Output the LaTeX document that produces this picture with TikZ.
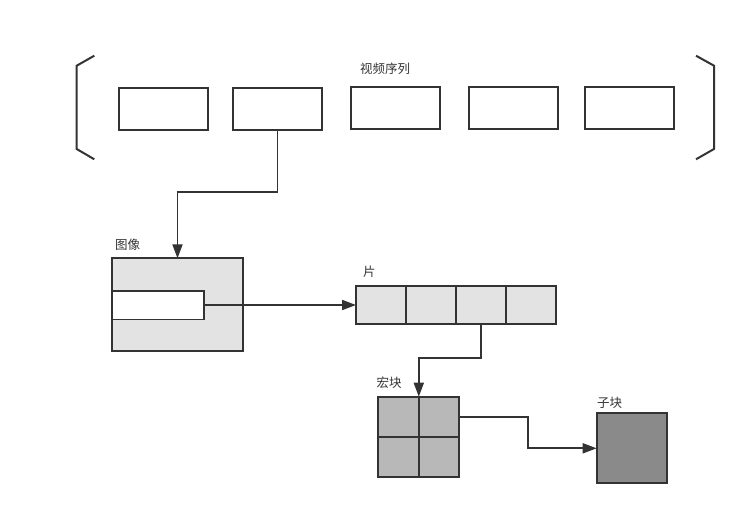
\documentclass[tikz,border=0pt]{standalone}
\usepackage{fontspec}
\newfontfamily\cjk{Noto Sans CJK SC}
\usetikzlibrary{arrows.meta}
\definecolor{ink}{HTML}{333333}
\definecolor{lightfill}{HTML}{E3E3E3}
\definecolor{midfill}{HTML}{B8B8B8}
\definecolor{darkfill}{HTML}{8A8A8A}
\tikzset{
  box/.style={draw=ink, line width=2pt, fill=white, inner sep=0pt, outer sep=0pt},
  conn/.style={draw=ink, line width=1.8pt},
  arr/.style={conn, -{Triangle[length=14pt,width=10pt]}},
  lab/.style={text=ink, font=\cjk\fontsize{12.5}{14}\selectfont, anchor=west, inner sep=0pt},
  bracket/.style={draw=ink, line width=2pt}
}
\begin{document}
\begin{tikzpicture}[x=1pt,y=-1pt]
\useasboundingbox (0,0) rectangle (746,516);
% video sequence
\node[lab] (tseq) at (360,69) {视频序列};
\draw[bracket] (94.3,55.7) -- (76.7,65.7) -- (76.7,149) -- (94.3,159.3);
\draw[bracket] (696,55.7) -- (714,65.7) -- (714,149) -- (696,159.3);
\node[box, minimum width=89pt, minimum height=42pt] (f1) at (163.5,109) {};
\node[box, minimum width=89pt, minimum height=42pt] (f2) at (277.5,109) {};
\node[box, minimum width=89pt, minimum height=42pt] (f3) at (395.5,108) {};
\node[box, minimum width=89pt, minimum height=42pt] (f4) at (513.5,108) {};
\node[box, minimum width=89pt, minimum height=42pt] (f5) at (629.5,108) {};
% picture
\node[lab] (timg) at (115,245) {图像};
\node[box, fill=lightfill, minimum width=131.6pt, minimum height=92.7pt] (img) at (177.5,304.7) {};
\node[box, line width=1.6pt, minimum width=92.3pt, minimum height=28.6pt] (frame) at (157.85,305) {};
% slice
\node[lab] (tslice) at (363,272) {片};
\node[box, fill=lightfill, minimum width=50pt, minimum height=38.3pt] (s1) at (381,304.85) {};
\node[box, fill=lightfill, minimum width=50pt, minimum height=38.3pt] (s2) at (431,304.85) {};
\node[box, fill=lightfill, minimum width=50pt, minimum height=38.3pt] (s3) at (481,304.85) {};
\node[box, fill=lightfill, minimum width=50pt, minimum height=38.3pt] (s4) at (531,304.85) {};
% macroblock
\node[lab] (tmb) at (376.5,383) {宏块};
\node[box, fill=midfill, minimum width=40.5pt, minimum height=40pt] (m1) at (398.55,416.7) {};
\node[box, fill=midfill, minimum width=40.5pt, minimum height=40pt] (m2) at (439.05,416.7) {};
\node[box, fill=midfill, minimum width=40.5pt, minimum height=40pt] (m3) at (398.55,456.7) {};
\node[box, fill=midfill, minimum width=40.5pt, minimum height=40pt] (m4) at (439.05,456.7) {};
\coordinate (mbtop) at (418.8,396.7);
% sub-block
\node[lab] (tsub) at (597,403) {子块};
\node[box, fill=darkfill, minimum width=70pt, minimum height=70pt] (sub) at (631.7,448.3) {};
% connectors
\coordinate (c1) at (0,192);
\draw[arr] (f2.south) -- (f2.south |- c1) -| (img.north);
\draw[arr] (frame.east) -- (frame.east -| s1.west);
\coordinate (c2) at (0,358.3);
\draw[arr] (s3.south) -- (s3.south |- c2) -| (mbtop);
\coordinate (c3) at (527.7,0);
\draw[arr] (m2.east) -- (m2.east -| c3) |- (sub.west);
\end{tikzpicture}
\end{document}
